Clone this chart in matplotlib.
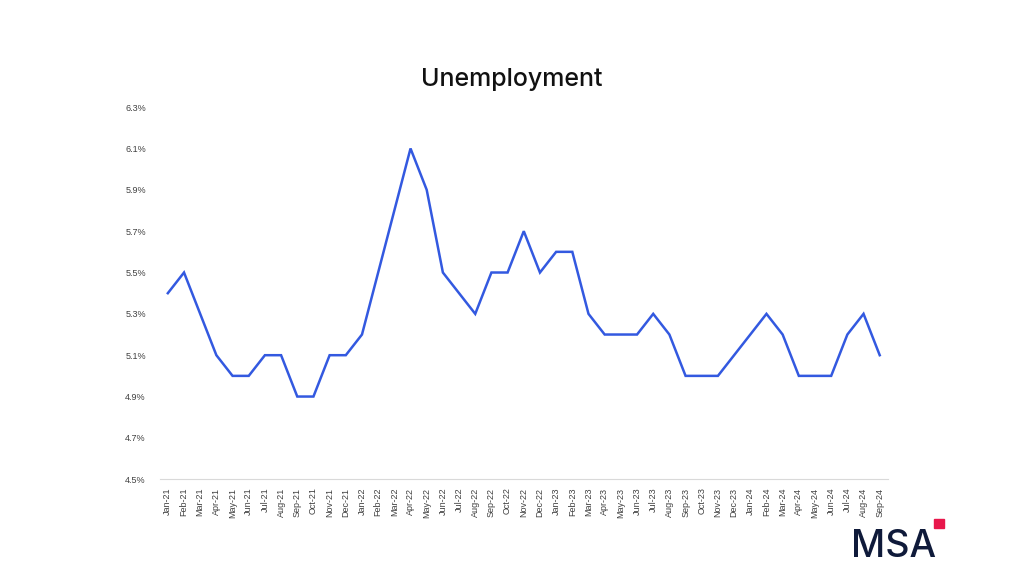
import matplotlib.pyplot as plt
import matplotlib.patches as patches
import numpy as np

months = ["Jan-21", "Feb-21", "Mar-21", "Apr-21", "May-21", "Jun-21", "Jul-21", "Aug-21",
          "Sep-21", "Oct-21", "Nov-21", "Dec-21", "Jan-22", "Feb-22", "Mar-22", "Apr-22",
          "May-22", "Jun-22", "Jul-22", "Aug-22", "Sep-22", "Oct-22", "Nov-22", "Dec-22",
          "Jan-23", "Feb-23", "Mar-23", "Apr-23", "May-23", "Jun-23", "Jul-23", "Aug-23",
          "Sep-23", "Oct-23", "Nov-23", "Dec-23", "Jan-24", "Feb-24", "Mar-24", "Apr-24",
          "May-24", "Jun-24", "Jul-24", "Aug-24", "Sep-24"]
unemployment = [5.4, 5.5, 5.3, 5.1, 5.0, 5.0, 5.1, 5.1,
                4.9, 4.9, 5.1, 5.1, 5.2, 5.5, 5.8, 6.1,
                5.9, 5.5, 5.4, 5.3, 5.5, 5.5, 5.7, 5.5,
                5.6, 5.6, 5.3, 5.2, 5.2, 5.2, 5.3, 5.2,
                5.0, 5.0, 5.0, 5.1, 5.2, 5.3, 5.2, 5.0,
                5.0, 5.0, 5.2, 5.3, 5.1]
y_ticks = [4.5, 4.7, 4.9, 5.1, 5.3, 5.5, 5.7, 5.9, 6.1, 6.3]

fig = plt.figure(figsize=(10.24, 5.76), dpi=100)
ax = fig.add_axes([0.156, 0.168, 0.711, 0.646])

x = np.arange(len(months))
ax.plot(x, unemployment, color="#3359e0", linewidth=1.8, solid_joinstyle="miter")

ax.set_xlim(-0.5, len(months) - 0.5)
ax.set_ylim(4.5, 6.3)
ax.set_xticks(x)
ax.set_xticklabels(months, rotation=90, fontsize=6.5, color="#404040",
                   family="Liberation Sans")
ax.set_yticks(y_ticks)
ax.set_yticklabels([f"{v:.1f}%" for v in y_ticks], fontsize=6.5, color="#404040",
                   family="Liberation Sans")
ax.tick_params(axis="x", length=0, pad=6)
ax.tick_params(axis="y", length=0, pad=10)

for side in ["top", "right", "left"]:
    ax.spines[side].set_visible(False)
ax.spines["bottom"].set_color("#d9d9d9")
ax.spines["bottom"].set_linewidth(0.8)

fig.text(0.5, 0.862, "Unemployment", ha="center", va="center", fontsize=18,
         family="Inter", fontweight="medium", color="#111111")

# logo
fig.text(0.873, 0.033, "MSA", ha="center", va="baseline", fontsize=27,
         family="Inter", fontweight="medium", color="#0f1a3a")
fig.patches.append(patches.Rectangle((0.912, 0.0833), 0.0098, 0.0156,
                                     transform=fig.transFigure, color="#e8174b"))

fig.savefig("out.png", dpi=100)
